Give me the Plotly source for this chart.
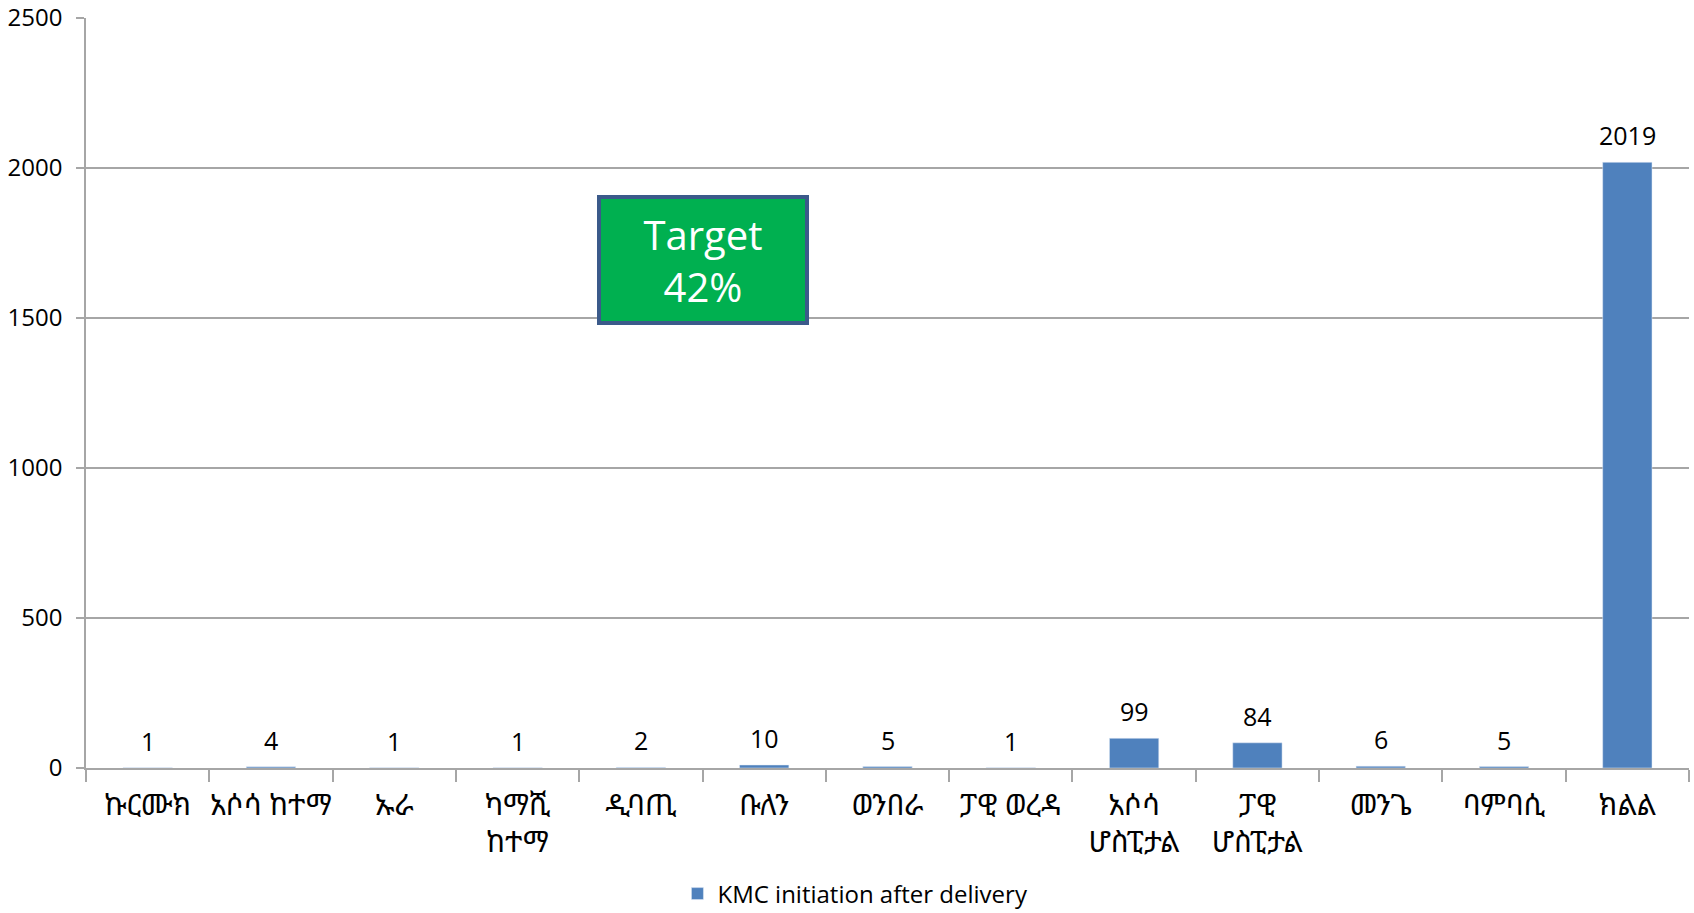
import plotly.graph_objects as go

# KMC initiation after delivery, by woreda / hospital
districts = [
    "ኩርሙክ", "አሶሳ ከተማ", "ኡራ", "ካማሺ<br>ከተማ", "ዲባጢ", "ቡለን", "ወንበራ",
    "ፓዊ ወረዳ", "አሶሳ<br>ሆስፒታል", "ፓዊ<br>ሆስፒታል", "መንጌ", "ባምባሲ", "ክልል",
]
kmc_counts = [1, 4, 1, 1, 2, 10, 5, 1, 99, 84, 6, 5, 2019]
y_ticks = [0, 500, 1000, 1500, 2000, 2500]

FONT = "Open Sans, Noto Sans Ethiopic, DejaVu Sans, sans-serif"
GRID = "#a6a6a6"

fig = go.Figure()
fig.add_trace(
    go.Bar(
        x=districts,
        y=kmc_counts,
        name="KMC initiation after delivery",
        marker=dict(color="#4f81bd"),
        width=0.4,
    )
)

# value labels sit a little higher above the bars than plotly's own outside text
for name, val in zip(districts, kmc_counts):
    fig.add_annotation(
        x=name, y=val, xref="x", yref="y",
        text=str(val),
        showarrow=False,
        yanchor="bottom",
        yshift=8,
        font=dict(size=25, color="#000000", family=FONT),
    )

# green "Target 42%" call-out box
fig.add_annotation(
    x=4.5, y=1693, xref="x", yref="y",
    text="Target<br>42%",
    showarrow=False,
    font=dict(size=40, color="white", family=FONT),
    bgcolor="#00b050",
    bordercolor="#3b5a8a",
    borderwidth=4,
    borderpad=0,
    width=204,
    height=122,
)

fig.update_layout(
    width=1694,
    height=913,
    paper_bgcolor="white",
    plot_bgcolor="white",
    font=dict(family=FONT, size=24, color="#000000"),
    margin=dict(l=86, r=5, t=18, b=145, autoexpand=False),
    bargap=0.6,
    showlegend=True,
    legend=dict(
        orientation="h",
        x=0.48, xanchor="center",
        y=-0.168, yanchor="middle",
        font=dict(size=24),
    ),
)
fig.update_xaxes(
    type="category",
    showline=True, linecolor=GRID, linewidth=1.5,
    ticks="outside", tickson="boundaries", ticklen=12,
    tickcolor=GRID, tickwidth=1.5,
    showgrid=False,
    tickangle=0,
    tickfont=dict(size=29),
    ticklabelstandoff=10,
)
fig.update_yaxes(
    range=[0, 2500],
    tickvals=y_ticks,
    showline=True, linecolor=GRID, linewidth=1.5,
    ticks="outside", ticklen=8, tickcolor=GRID, tickwidth=1.5,
    showgrid=True, gridcolor=GRID, gridwidth=1.5,
    zeroline=False,
    tickfont=dict(size=24),
    ticklabelstandoff=9,
)

# drop the browser's default body margin so the chart sits flush in the window
fig.write_html(
    "out.html",
    config={"displayModeBar": False},
    post_script="document.body.style.margin='0';document.body.style.overflow='hidden';",
)
